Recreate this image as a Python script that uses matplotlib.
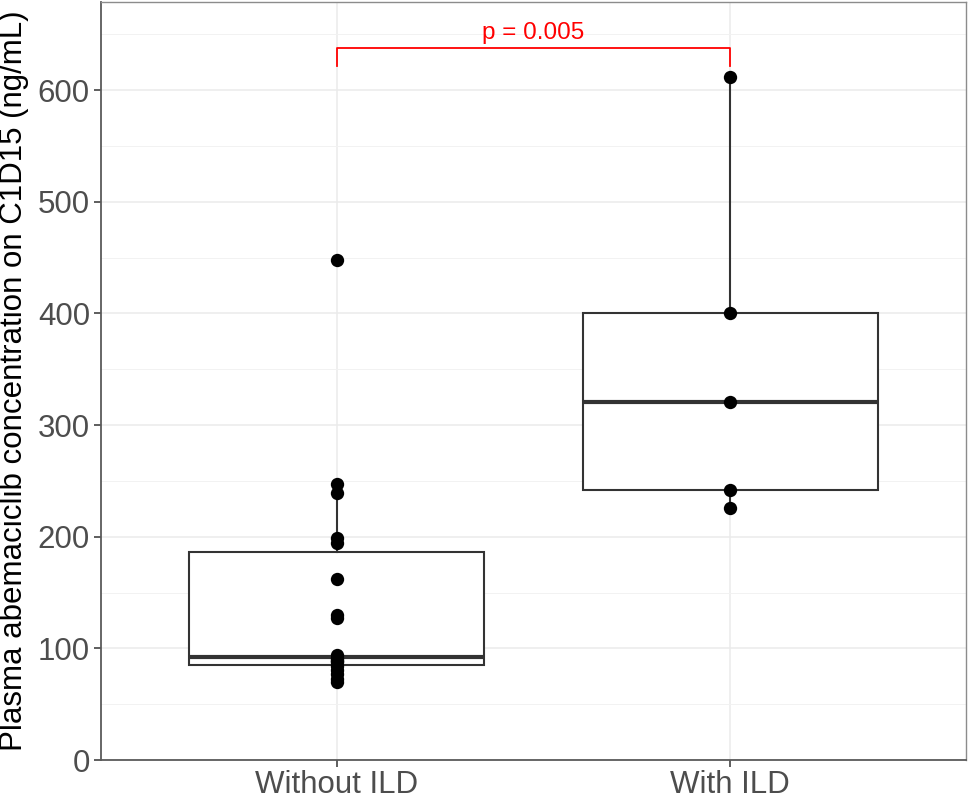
import matplotlib
matplotlib.use("Agg")
import matplotlib.pyplot as plt
import numpy as np

plt.rcParams['font.family'] = ['Liberation Sans', 'DejaVu Sans']

# ---- data ----
categories = ["Without ILD", "With ILD"]
without_ild = [69.5, 73, 77, 81, 84, 88, 89, 90, 91, 94,
               127, 130, 162, 194, 199, 239, 247, 448]
with_ild = [226, 242, 321, 400, 612]
p_label = "p = 0.005"
bracket_y = 638
bracket_drop = 16
y_ticks = [0, 100, 200, 300, 400, 500, 600]
y_minor = [50, 150, 250, 350, 450, 550, 650]
ylabel = "Plasma abemaciclib concentration on C1D15 (ng/mL)"

W, H = 969, 799
fig = plt.figure(figsize=(W / 100, H / 100), dpi=100)
ax = fig.add_axes([101 / W, (H - 760) / H, (966 - 101) / W, (760 - 2) / H])

groups = [without_ild, with_ild]
pos = [1, 2]

box_col = '#333333'
ax.boxplot(groups, positions=pos, widths=0.75, whis=1.5, showfliers=False,
           patch_artist=True,
           boxprops=dict(facecolor='white', edgecolor=box_col, lw=1.5),
           medianprops=dict(color=box_col, lw=3.0),
           whiskerprops=dict(color=box_col, lw=1.5),
           capprops=dict(lw=0),
           zorder=2)

for p_, g in zip(pos, groups):
    ax.plot([p_] * len(g), g, 'o', color='black', ms=9.6, mew=0, zorder=3)

ax.set_xlim(0.4, 2.6)
ax.set_ylim(0, 679)

# grid and ticks
ax.set_yticks(y_ticks)
ax.set_yticks(y_minor, minor=True)
ax.set_xticks(pos)
ax.set_xticklabels(categories)
ax.grid(True, which='major', axis='both', color='#EBEBEB', lw=1.1, zorder=0)
ax.grid(True, which='minor', axis='y', color='#F2F2F2', lw=0.7, zorder=0)
ax.set_axisbelow(True)

# significance bracket
ax.plot([1, 1, 2, 2], [bracket_y - bracket_drop, bracket_y, bracket_y, bracket_y - bracket_drop],
        color='red', lw=1.3, zorder=4)
ax.text(1.5, bracket_y + 3, p_label, color='red', ha='center', va='bottom', fontsize=17.5)

# axes styling
for side in ['top', 'right']:
    ax.spines[side].set_color('#8C8C8C')
    ax.spines[side].set_linewidth(1.0)
for side in ['left', 'bottom']:
    ax.spines[side].set_color('#5A5A5A')
    ax.spines[side].set_linewidth(1.3)

ax.tick_params(axis='both', which='major', length=5, width=1.1, color='#333333',
               labelsize=22.5, labelcolor='#4D4D4D', pad=3)
ax.tick_params(axis='x', which='major', pad=2)
ax.tick_params(axis='y', which='minor', length=0)
ax.set_ylabel(ylabel, fontsize=22.5, color='black', labelpad=6)

fig.savefig("out.png", dpi=100)
